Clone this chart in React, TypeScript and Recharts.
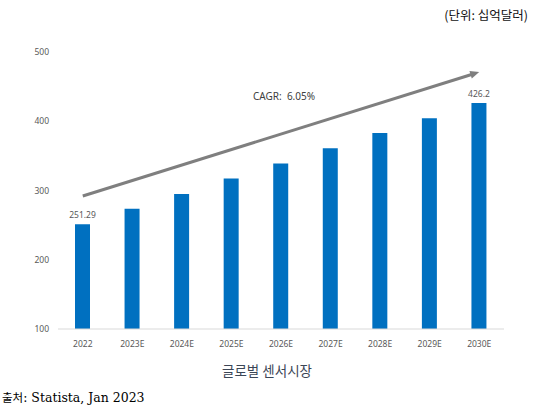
import React from "react";
import {
  BarChart,
  Bar,
  XAxis,
  YAxis,
  LabelList,
  ReferenceLine,
} from "recharts";

const years = ["2022", "2023E", "2024E", "2025E", "2026E", "2027E", "2028E", "2029E", "2030E"];
const marketSize = [251.29, 273.5, 295, 317.5, 339, 361, 383, 404.5, 426.2];
const valueLabels = ["251.29", "", "", "", "", "", "", "", "426.2"];
const yTicks = [100, 200, 300, 400, 500];

// CAGR arrow, in data units (from 2022 to 2030E)
const arrowFrom = { x: "2022", y: 292 };
const arrowTo = { x: "2030E", y: 471 };

const data = years.map((year, i) => ({
  year,
  value: marketSize[i],
  label: valueLabels[i],
}));

function Arrow(props: any) {
  const { x1, y1, x2, y2 } = props;
  const dx = x2 - x1;
  const dy = y2 - y1;
  const len = Math.sqrt(dx * dx + dy * dy);
  const ux = dx / len;
  const uy = dy / len;
  const headLen = 9;
  const headW = 4;
  const bx = x2 - ux * headLen;
  const by = y2 - uy * headLen;
  const pts = [
    `${x2},${y2}`,
    `${bx - uy * headW},${by + ux * headW}`,
    `${bx + uy * headW},${by - ux * headW}`,
  ].join(" ");
  return (
    <g>
      <line x1={x1} y1={y1} x2={bx + ux} y2={by + uy} stroke="#7f7f7f" strokeWidth={3} />
      <polygon points={pts} fill="#7f7f7f" />
    </g>
  );
}

const tickStyle = { fontSize: 8.5, fill: "#595959", fontFamily: "'Noto Sans', sans-serif" };

export default function App() {
  return (
    <div
      style={{
        position: "absolute",
        left: 0,
        top: 0,
        width: 536,
        height: 411,
        background: "#fff",
        fontFamily: "'Noto Sans CJK KR', sans-serif",
      }}
    >
      <div
        style={{
          position: "absolute",
          right: 8,
          top: 6,
          fontSize: 12.5,
          color: "#111",
          lineHeight: "18px",
        }}
      >
        (단위: 십억달러)
      </div>
      <BarChart
        width={536}
        height={411}
        data={data}
        margin={{ top: 52, right: 32, left: 18, bottom: 52 }}
      >
        <XAxis
          dataKey="year"
          tick={tickStyle}
          tickLine={false}
          axisLine={{ stroke: "#d9d9d9" }}
          tickMargin={6}
          height={30}
        />
        <YAxis
          domain={[100, 500]}
          ticks={yTicks}
          tick={tickStyle}
          tickLine={false}
          axisLine={false}
          tickSize={0}
          tickMargin={9}
          width={40}
          interval={0}
        />
        <Bar dataKey="value" fill="#0070c0" barSize={15} isAnimationActive={false}>
          <LabelList
            dataKey="label"
            position="top"
            offset={6}
            style={{ fontSize: 8.5, fill: "#595959", fontFamily: "'Noto Sans', sans-serif" }}
          />
        </Bar>
        <ReferenceLine
          segment={[arrowFrom, arrowTo]}
          shape={Arrow}
          ifOverflow="visible"
        />
      </BarChart>
      <div
        style={{
          position: "absolute",
          left: 253,
          top: 89,
          fontSize: 10,
          color: "#404040",
          fontFamily: "'Noto Sans', sans-serif",
          lineHeight: "14px",
          whiteSpace: "pre",
        }}
      >
        {"CAGR:  6.05%"}
      </div>
      <div
        style={{
          position: "absolute",
          left: 0,
          width: 534,
          top: 360,
          textAlign: "center",
          fontSize: 13.5,
          color: "#3b4656",
          lineHeight: "20px",
        }}
      >
        글로벌 센서시장
      </div>
      <div
        style={{
          position: "absolute",
          left: 2,
          top: 387,
          fontSize: 12.5,
          color: "#000",
          lineHeight: "20px",
          whiteSpace: "pre",
        }}
      >
        <span style={{ fontFamily: "'Noto Sans CJK KR', sans-serif", fontSize: 11.5 }}>출처</span>
        <span style={{ fontFamily: "'DejaVu Serif', serif" }}>{": Statista, Jan 2023"}</span>
      </div>
    </div>
  );
}
